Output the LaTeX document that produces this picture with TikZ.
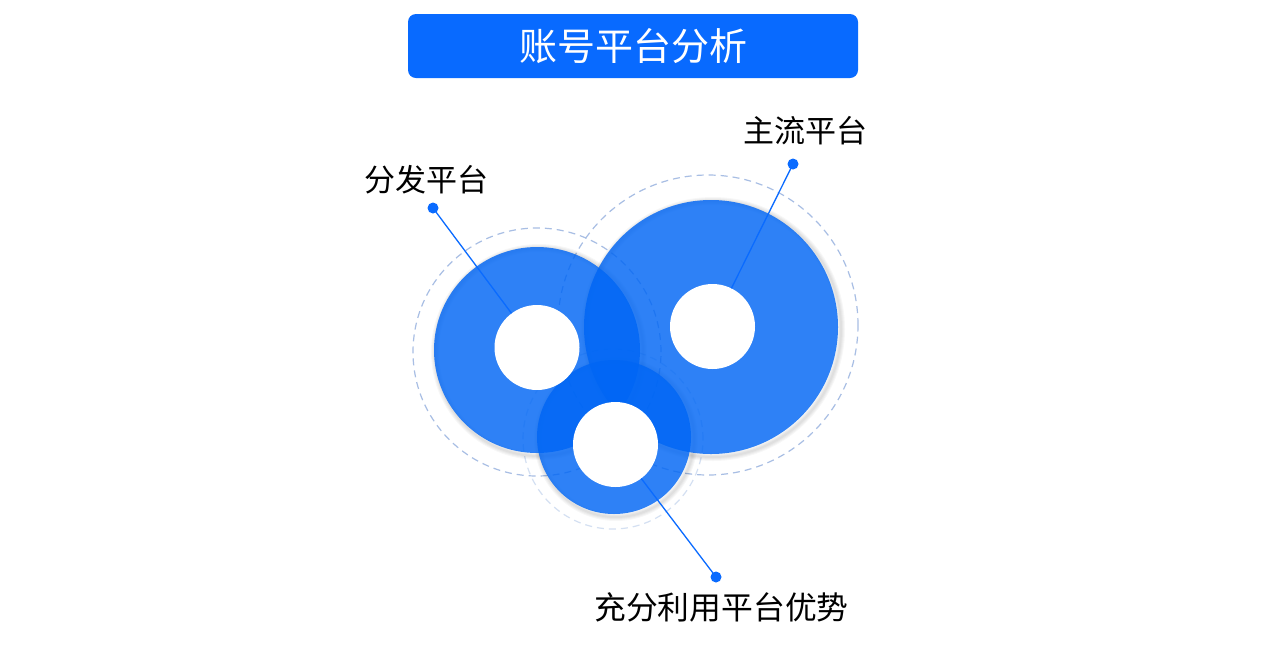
\documentclass[tikz,border=0pt]{standalone}
\usepackage{fontspec}
\newfontfamily\cjk{Noto Sans CJK SC}
\definecolor{titleblue}{RGB}{8,106,255}
\definecolor{diskblue}{RGB}{0,102,245}
\definecolor{dashc}{RGB}{168,190,228}
\definecolor{dashlight}{RGB}{212,224,242}
\definecolor{leadc}{RGB}{10,107,255}
\tikzset{
  titlebox/.style={rectangle, rounded corners=8pt, fill=titleblue, text=white, inner sep=0pt,
    minimum width=450pt, minimum height=64pt, font=\cjk\fontsize{38}{44}\selectfont},
  dashring/.style={circle, draw=dashc, line width=1.2pt, dash pattern=on 7pt off 5pt, inner sep=0pt},
  dashringlight/.style={dashring, draw=dashlight},
  bluedisk/.style={circle, fill=diskblue, fill opacity=0.82, inner sep=0pt},
  hole/.style={circle, fill=white, inner sep=0pt, minimum size=85pt},
  dotn/.style={circle, fill=leadc, inner sep=0pt, minimum size=11pt},
  lbl/.style={inner sep=0pt, text=black, font=\cjk\fontsize{31}{36}\selectfont},
  lblwide/.style={lbl, font=\cjk\fontsize{31.8}{36}\selectfont},
  leader/.style={draw=leadc, line width=1.3pt},
  shade ring/.style={draw=black, draw opacity=0.03}
}
\begin{document}
\begin{tikzpicture}[x=1pt,y=-1pt]
\useasboundingbox (0,0) rectangle (1280,657);
\fill[white] (0,0) rectangle (1280,657);

% title
\node[titlebox] (title) at (633,46) {账号平台分析};

% dashed rings
\node[dashring, minimum size=248pt] (d1) at (537,352) {};
\node[dashring, minimum size=300pt] (d2) at (708,325) {};
\node[dashringlight, minimum size=180pt] (d3) at (613,439) {};

% soft shadows
\foreach \w in {2,4,6,8} {
  \draw[shade ring, line width=\w pt] (539,352) circle (104);
  \draw[shade ring, line width=\w pt] (713,329) circle (128);
  \draw[shade ring, line width=\w pt] (616,439) circle (78);
}

% blue disks
\node[bluedisk, minimum size=206pt] (b1) at (537,350) {};
\node[bluedisk, minimum size=254pt] (b2) at (711,327) {};
\node[bluedisk, minimum size=154pt] (b3) at (614,437) {};

% white holes
\node[hole] (w1) at (537,347.5) {};
\node[hole] (w2) at (712.5,326.5) {};
\node[hole] (w3) at (615.5,444.5) {};

% leaders and labels
\node[dotn] (p1) at (433,208) {};
\node[dotn] (p2) at (793,164) {};
\node[dotn] (p3) at (716,577) {};
\draw[leader] (p1.center) -- (w1);
\draw[leader] (p2.center) -- (w2);
\draw[leader] (p3.center) -- (w3);

\node[lbl] (l1) at (426.5,180) {分发平台};
\node[lbl] (l2) at (805,131) {主流平台};
\node[lblwide] (l3) at (721.5,607.5) {充分利用平台优势};
\end{tikzpicture}
\end{document}
